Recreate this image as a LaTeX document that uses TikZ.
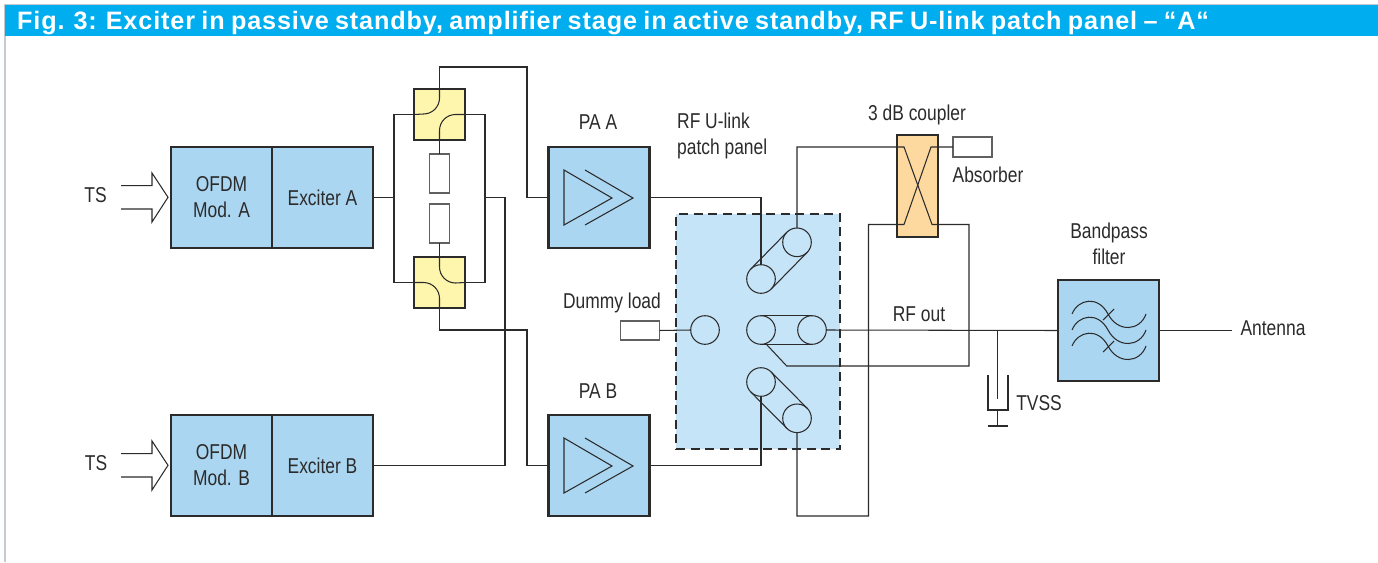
\documentclass[tikz,border=0pt]{standalone}
\usepackage{fontspec}
\setmainfont[FakeStretch=0.81]{Liberation Sans}
\newfontfamily\titlefont[LetterSpace=3.5,WordSpace=0.8]{Liberation Sans}
\usetikzlibrary{calc}
\definecolor{hdr}{HTML}{00AEEF}
\definecolor{blk}{HTML}{ABD6F1}
\definecolor{pnl}{HTML}{C6E4F7}
\definecolor{ylw}{HTML}{FFF6AE}
\definecolor{org}{HTML}{FDD89F}
\definecolor{ink}{HTML}{2B2B2B}
\definecolor{edge}{HTML}{C4CAD2}
\tikzset{
  wire/.style={draw=ink,line width=1.05pt,line join=miter},
  heavy/.style={draw=ink,line width=2.6pt,inner sep=0pt,outer sep=0pt,font=\fontsize{21.5}{24}\selectfont,align=center,text=ink},
  blockbox/.style={heavy,fill=blk,minimum width=101pt,minimum height=101pt},
  yellowbox/.style={heavy,fill=ylw,minimum width=51pt,minimum height=51pt},
  thin box/.style={draw=ink!75,line width=1.3pt,fill=white,inner sep=0pt,outer sep=0pt},
  ring/.style={circle,draw=ink,line width=1.05pt,minimum size=28.6pt,inner sep=0pt,outer sep=0pt},
  lbl/.style={font=\fontsize{21.5}{26}\selectfont,text=ink,inner sep=0pt,align=center},
}
\newcommand{\band}[2]{%
  \draw[wire] ($(#1)!14.3pt!90:(#2)$) -- ($(#2)!14.3pt!-90:(#1)$);
  \draw[wire] ($(#1)!14.3pt!-90:(#2)$) -- ($(#2)!14.3pt!90:(#1)$);}
\begin{document}
\begin{tikzpicture}[x=1pt,y=-1pt]
\useasboundingbox (0,0) rectangle (1378,562);
% frame and header
\draw[edge,line width=1.6pt] (5,562) -- (5,4.5) -- (1378,4.5);
\node[fill=hdr,minimum width=1373pt,minimum height=31pt,inner sep=0pt,outer sep=0pt,anchor=north west] (hdrbar) at (5,5) {};
\node[anchor=base west,inner sep=0pt,text=white,font=\titlefont\bfseries\fontsize{25.2}{28}\selectfont] (title) at (17,29) {Fig. 3: Exciter in passive standby, amplifier stage in active standby, RF U-link patch panel – “A“};
% patch panel
\node[draw=ink,fill=pnl,line width=2.6pt,dash pattern=on 9pt off 5.5pt,minimum width=164pt,minimum height=235pt,inner sep=0pt,outer sep=0pt] (panel) at (758,331.5) {};
% blocks
\node[blockbox] (modA) at (221.5,197.5) {OFDM\\[2pt]Mod. A};
\node[blockbox] (excA) at (322.5,197.5) {Exciter A};
\node[blockbox] (modB) at (221.5,465.5) {OFDM\\[2pt]Mod. B};
\node[blockbox] (excB) at (322.5,465.5) {Exciter B};
\node[blockbox] (paA) at (599,197.5) {};
\node[blockbox] (paB) at (599,465.5) {};
\node[blockbox] (bpf) at (1108.5,330.5) {};
\node[yellowbox] (yA) at (439.5,114.5) {};
\node[yellowbox] (yB) at (439.5,282.5) {};
\node[heavy,fill=org,minimum width=41pt,minimum height=102pt] (cpl) at (917.5,186) {};
% resistors
\node[thin box,minimum width=20pt,minimum height=39pt] (rA) at (439.5,173.5) {};
\node[thin box,minimum width=20pt,minimum height=39pt] (rB) at (439.5,223.5) {};
\node[thin box,minimum width=39pt,minimum height=20pt] (abs) at (972.5,147) {};
\node[thin box,minimum width=39pt,minimum height=19pt] (dummy) at (640,330.5) {};
% rings
\node[ring] (c1) at (761,279) {};
\node[ring] (c2) at (797,242.3) {};
\node[ring] (c3) at (705,330) {};
\node[ring] (c4) at (761,330) {};
\node[ring] (c5) at (812,330) {};
\node[ring] (c6) at (761,382) {};
\node[ring] (c7) at (797,418.3) {};
\band{c1}{c2}
\band{c4}{c5}
\band{c6}{c7}
% switch curves
\draw[wire] (yA.north) -- (439.5,98) arc[start angle=0,end angle=90,radius=16] -- (yA.west);
\draw[wire] (yA.east) -- (455.5,114.5) arc[start angle=-90,end angle=-180,radius=16] -- (yA.south);
\draw[wire] (yB.north) -- (439.5,267) arc[start angle=180,end angle=90,radius=16] -- (yB.east);
\draw[wire] (yB.west) -- (423.5,282.5) arc[start angle=-90,end angle=0,radius=16] -- (yB.south);
% connectors left
\coordinate (railL) at (394,197.5);
\coordinate (railR) at (485,197.5);
\coordinate (busB) at (505,197.5);
\coordinate (topN) at (527,67);
\coordinate (botN) at (527,330);
\draw[wire] (excA.east) -- (railL);
\draw[wire] (yA.west) -| (railL) |- (yB.west);
\draw[wire] (yA.east) -| (railR) |- (yB.east);
\draw[wire] (railR) -- (busB) |- (excB.east);
\draw[wire] (yA.north) |- (topN) |- (paA.west);
\draw[wire] (yB.south) |- (botN) |- (paB.west);
\draw[wire] (yA.south) -- (rA.north);
\draw[wire] (yB.north) -- (rB.south);
% connectors right
\draw[wire] (paA.east) -| (c1.north);
\draw[wire] (paB.east) -| (c6.south);
\coordinate (xTL) at (904,147);
\coordinate (xTR) at (931,147);
\coordinate (xBL) at (904,224.5);
\coordinate (xBR) at (932,224.5);
\coordinate (lowL) at (868.5,516);
\coordinate (outR) at (969,366);
\coordinate (outK) at (786.7,366);
\draw[wire] (c2.north) |- (xTL) -- (xBR) -- (outR |- xBR) |- (outK) -- (c4.-71);
\draw[wire] (abs.west) -- (xTR) -- (xBL) -| (lowL) -| (c7.south);
\draw[wire] (dummy.east) -- (c3.west);
\draw[wire] (c5.east) -- (bpf.west);
\draw[wire] (bpf.east) -- ++(73,0) coordinate (antEnd);
% TS arrows
\foreach \n/\d in {A/0,B/268}{
  \begin{scope}[yshift=-\d pt]
    \draw[wire] (121,185.7) -- (152,185.7) -- (152,173) -- (168,197.3) -- (152,222) -- (152,209) -- (121,209);
    % amplifier symbol
    \draw[wire] (564,170) -- (612,198) -- (564,225) -- cycle;
    \draw[wire] (585,170) -- (633,198) -- (585,225);
  \end{scope}
}
% filter symbol
\foreach \d in {0,16,32}{
  \draw[wire] (1072,314+\d) .. controls (1078,299+\d) and (1098,295+\d) .. (1108,314+\d)
    .. controls (1118,333+\d) and (1140,331+\d) .. (1146,314+\d);
}
\draw[wire] (1103,320) -- (1114,309);
\draw[wire] (1103,352) -- (1114,341);
% TVSS
\coordinate (tv) at (997.7,330);
\draw[wire] (tv) -- (997.7,399);
\draw[wire] (988,375) -- (988,410) -- (1008,410) -- (1008,375);
\draw[wire] (997.7,410) -- (997.7,426);
\draw[wire] (988,426) -- (1008,426);
% labels
\node[lbl] (t1) at (95.5,195) {TS};
\node[lbl] (t2) at (96,463) {TS};
\node[lbl] (t3) at (598,122) {PA A};
\node[lbl] (t4) at (598,391) {PA B};
\node[lbl,align=left,anchor=west] (t5) at (677,136) {RF U-link\\patch panel};
\node[lbl] (t6) at (917,115) {3 dB coupler};
\node[lbl] (t7) at (988,175) {Absorber};
\node[lbl] (t8) at (612,303) {Dummy load};
\node[lbl] (t9) at (919,314) {RF out};
\node[lbl] (t10) at (1109,244) {Bandpass\\filter};
\node[lbl] (t11) at (1273,328) {Antenna};
\node[lbl] (t12) at (1039,403) {TVSS};
\end{tikzpicture}
\end{document}
